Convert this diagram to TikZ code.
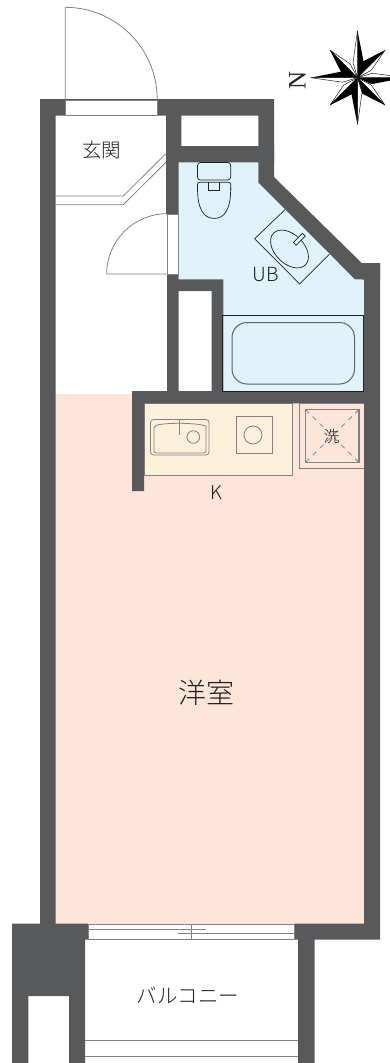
\documentclass[tikz,border=0pt]{standalone}
\usepackage{fontspec}
\setmainfont{Noto Sans CJK JP Light}
\newfontfamily\serifN{Liberation Serif}
\definecolor{wallc}{HTML}{58595B}
\definecolor{pinkc}{HTML}{FDE5DA}
\definecolor{bluec}{HTML}{E0F3FB}
\definecolor{creamc}{HTML}{FEF1DC}
\definecolor{linec}{HTML}{808285}
\definecolor{inkc}{HTML}{231F20}
\tikzset{
  wallfill/.style={fill=wallc,draw=none},
  thin line/.style={draw=linec,line width=0.8pt},
  dark line/.style={draw=inkc,line width=0.7pt},
  label text/.style={text=inkc,inner sep=0pt,font=\fontsize{#1}{#1}\selectfont},
}
\begin{document}
\begin{tikzpicture}[x=1pt,y=-1pt]
\useasboundingbox (0,0) rectangle (390,1063);
\clip (0,0) rectangle (390,1063);
% room fills
\fill[pinkc] (55,394) rectangle (364,924);
\fill[pinkc] (132,403) rectangle (364,500);
\fill[bluec] (178.7,162) -- (258.3,162) -- (258.3,182.3) -- (355,279.3) -- (364,279.3) -- (364,391) -- (223.3,391) -- (223.3,279.3) -- (178.7,279.3) -- cycle;
\draw[fill=creamc,thin line] (144,403.3) rectangle (292.5,475);
% walls
\path[wallfill] (258.3,115) -- (274,115) -- (274,177) -- (361.7,263) -- (380,263) -- (380,280) -- (355,279.3) -- (258.3,182.3) -- cycle;
\path[wallfill] (40,99) rectangle (55.5,924)
 (40,99) rectangle (274,115.5)
 (166,115) rectangle (181.3,146)
 (166,146) rectangle (274,162.3)
 (166,115) rectangle (178.7,214.7)
 (167,274) rectangle (178.7,391)
 (167,279.3) rectangle (223.3,291)
 (211.7,279.3) rectangle (223.3,403)
 (132,391) rectangle (380,403.3)
 (132,391) rectangle (144,491)
 (364,263) rectangle (380,939.5)
 (294.5,923.5) rectangle (380,939.5)
 (298,939) rectangle (314.5,1063)
 (12,923.5) rectangle (85,996)
 (12,923.5) rectangle (88,939.5)
 (12,990) rectangle (28.3,1063)
 (69,990) rectangle (85,1063);
% openings
\draw[fill=white,thin line] (65.5,100) rectangle (157,115);
\draw[fill=white,thin line] (167,214.7) rectangle (178.7,274);
\draw[fill=white,thin line] (88,924) rectangle (294.5,939);
% entrance door
\draw[thin line] (65.2,99) -- (65.2,7.3) arc[start angle=-90,end angle=0,radius=92];
% inner door
\draw[thin line] (167,274) -- (106.7,274) arc[start angle=180,end angle=270,radius=60.3];
% step
\draw[thin line] (55.5,196) -- (123.3,196) -- (165.6,154);
\draw[thin line] (55.5,204.7) -- (123.3,204.7) -- (166,162.3);
% window
\draw[thin line] (88,929.5) -- (205.7,929.5);
\draw[thin line] (178,933.7) -- (294.5,933.7);
\draw[thin line] (191,924) -- (191,939);
% balcony
\draw[thin line] (85,1040.7) -- (298,1040.7);
\draw[thin line] (85,1056.7) -- (298,1056.7);
% toilet
\draw[dark line,rounded corners=3pt] (197.5,162.5) rectangle (230.7,180);
\draw[dark line,rounded corners=2pt] (197.5,190) -- (197.5,182.3) -- (230.7,182.3) -- (230.7,190);
\draw[dark line] (197.5,188) .. controls (197.5,208) and (203,218.4) .. (214.2,218.4) .. controls (225.4,218.4) and (230.7,208) .. (230.7,188);
\draw[dark line] (208,182.3) -- (208,190) -- (219.5,190) -- (219.5,182.3);
% wash basin
\draw[dark line] (285,209.7) -- (254.7,238.7) -- (299.7,284) -- (329.3,254.3);
\draw[dark line] (289.5,249) ellipse[x radius=22.5,y radius=14.5,rotate=-45];
\begin{scope}[shift={(299.3,239.3)},rotate=-45]
\draw[dark line,fill=bluec] (-2,-6.5) rectangle (2,6.5);
\end{scope}
% tub
\draw[dark line,line width=0.8pt] (222.7,315) rectangle (363.7,391);
\draw[thin line,draw=inkc!70,line width=1pt,rounded corners=15pt] (232,322.5) rectangle (354.5,384);
% sink
\draw[thin line,rounded corners=3pt] (150.5,419.5) rectangle (209,455);
\draw[thin line] (154,426) .. controls (165,422.5) and (195,422.5) .. (206,426) -- (206,450) [rounded corners=2pt] -- (206,453) -- (154,453) -- cycle;
\draw[draw=linec,line width=1.4pt] (179.5,419.5) -- (179.5,435);
\draw[thin line] (193.3,437) circle[radius=6.3];
% stove
\draw[thin line] (236,416.5) rectangle (272.3,453);
\draw[thin line] (253,435) circle[radius=9];
% washer pan
\draw[fill=pinkc,thin line] (364,403.5) -- (299.5,403.5) -- (299.5,468) -- (364,468);
\draw[draw=linec,line width=1.1pt] (305.5,409.5) rectangle (359,462.5);
\draw[thin line,dashed,dash pattern=on 5pt off 5pt] (305.5,409.5) -- (359,462.5);
\draw[thin line,dashed,dash pattern=on 5pt off 5pt] (359,409.5) -- (305.5,462.5);
% compass
\begin{scope}[shift={(357.5,77.7)}]
\foreach \a/\L/\s/\w/\d in {45/39/-1/8.5/13,135/39/-1/8.5/13,225/39/1/8.5/13,315/39/-1/8.5/13,0/47/1/6.5/14,90/47/1/6.5/14,180/47/1/6.5/14,270/47/1/6.5/14}{
  \begin{scope}[rotate=\a]
    \draw[fill=white,draw=inkc,line width=0.5pt] (0,-\L) -- (-\s*4.5,-15) -- (0,0) -- cycle;
    \fill[black] (0,-\L) -- (\s*\w,-\d) -- (0,0) -- cycle;
  \end{scope}
}
\end{scope}
% labels
\node[label text=19.5] (genkan) at (101.5,150) {玄関};
\node[label text=19.5] (ub) at (266,275) {UB};
\node[label text=19] (kitchen) at (216,492.5) {K};
\node[label text=16] (wash) at (331.5,436) {洗};
\node[label text=28] (room) at (206,693) {洋室};
\node[label text=20.5] (balcony) at (188,995) {バルコニー};
\node[text=inkc,inner sep=0pt,rotate=90,font=\serifN\fontsize{25}{25}\selectfont] (north) at (297.5,80) {N};
\end{tikzpicture}
\end{document}
